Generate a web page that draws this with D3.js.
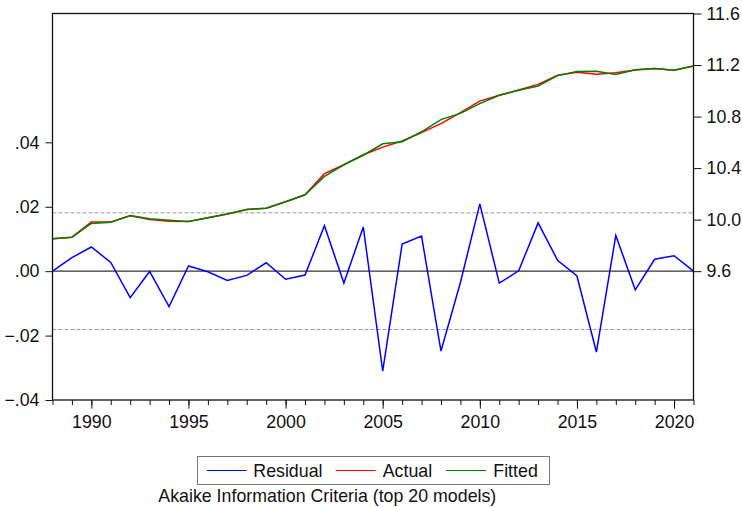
<!DOCTYPE html>
<html>
<head>
<meta charset="utf-8">
<script src="https://cdn.jsdelivr.net/npm/d3@7"></script>
<style>
  body { margin: 0; background: #fff; }
  text { font-family: "Liberation Sans", Arial, sans-serif; fill: #111; }
</style>
</head>
<body>
<div id="chart"></div>
<script>
// years on the x axis
var years = d3.range(1988, 2022);

// residuals (left axis)
var residual = [0.0000, 0.0042, 0.0075, 0.0027, -0.0082, -0.0001, -0.0110, 0.0016, -0.0002, -0.0029,
  -0.0013, 0.0026, -0.0025, -0.0012, 0.0141, -0.0037, 0.0137, -0.0310, 0.0084, 0.0109,
  -0.0248, -0.0035, 0.0209, -0.0037, 0.0001, 0.0150, 0.0034, -0.0015, -0.0251, 0.0111,
  -0.0058, 0.0037, 0.0048, 0.0000];

// actual and fitted (right axis)
var actual = [9.852, 9.864, 9.981, 9.981, 10.030, 10.001, 9.988, 9.986, 10.015, 10.043,
  10.079, 10.089, 10.139, 10.193, 10.357, 10.426, 10.504, 10.563, 10.610, 10.675,
  10.745, 10.830, 10.920, 10.965, 11.006, 11.050, 11.120, 11.143, 11.128, 11.141,
  11.161, 11.174, 11.159, 11.192];
var fitted = [9.852, 9.864, 9.970, 9.979, 10.032, 10.006, 9.996, 9.986, 10.015, 10.043,
  10.079, 10.089, 10.139, 10.193, 10.336, 10.426, 10.500, 10.589, 10.605, 10.682,
  10.776, 10.825, 10.900, 10.965, 11.004, 11.037, 11.118, 11.149, 11.151, 11.126,
  11.163, 11.174, 11.159, 11.192];

var leftTicks = [-0.04, -0.02, 0, 0.02, 0.04];
var rightTicks = [9.6, 10.0, 10.4, 10.8, 11.2, 11.6];
var yearLabels = [1990, 1995, 2000, 2005, 2010, 2015, 2020];
var band = 0.0181;

var W = 742, H = 507;
var m = {left: 52.5, right: 693.5, top: 13.5, bottom: 400};
var fs = "17.8px";

var svg = d3.select("#chart").append("svg")
  .attr("width", W).attr("height", H);

var x = d3.scaleLinear().domain([1988, 2021]).range([m.left, m.right]);
var yL = d3.scaleLinear().domain([-0.04, 0.08]).range([m.bottom, m.top]);
var yR = d3.scaleLinear().domain([8.6, 11.6]).range([m.bottom, m.top]);

var fmtL = function(d) { return d3.format(".2f")(d).replace("0.", "."); };

// reference lines
svg.append("line")
  .attr("x1", m.left).attr("x2", m.right)
  .attr("y1", yL(0)).attr("y2", yL(0))
  .attr("stroke", "#333").attr("stroke-width", 1.2);
[band, -band].forEach(function(v) {
  svg.append("line")
    .attr("x1", m.left).attr("x2", m.right)
    .attr("y1", yL(v)).attr("y2", yL(v))
    .attr("stroke", "#999").attr("stroke-width", 1)
    .attr("stroke-dasharray", "4,2");
});

// lines
var lineL = d3.line().x(function(d, i) { return x(years[i]); }).y(function(d) { return yL(d); });
var lineR = d3.line().x(function(d, i) { return x(years[i]); }).y(function(d) { return yR(d); });

svg.append("path").datum(residual).attr("d", lineL)
  .attr("fill", "none").attr("stroke", "#0000ff").attr("stroke-width", 1.5);
svg.append("path").datum(actual).attr("d", lineR)
  .attr("fill", "none").attr("stroke", "#ff0000").attr("stroke-width", 1.5);
svg.append("path").datum(fitted).attr("d", lineR)
  .attr("fill", "none").attr("stroke", "#008000").attr("stroke-width", 1.5);

// frame
svg.append("rect")
  .attr("x", m.left).attr("y", m.top)
  .attr("width", m.right - m.left).attr("height", m.bottom - m.top)
  .attr("fill", "none").attr("stroke", "#111").attr("stroke-width", 1.3);

// axes
var gL = svg.append("g").attr("transform", "translate(" + m.left + ",0)")
  .call(d3.axisLeft(yL).tickValues(leftTicks).tickFormat(fmtL).tickSize(7).tickPadding(6).tickSizeOuter(0));
var gR = svg.append("g").attr("transform", "translate(" + m.right + ",0)")
  .call(d3.axisRight(yR).tickValues(rightTicks).tickFormat(d3.format(".1f")).tickSize(8).tickPadding(5).tickSizeOuter(0));
var gB = svg.append("g").attr("transform", "translate(0," + m.bottom + ")")
  .call(d3.axisBottom(x).tickValues(years).tickFormat("").tickSize(5).tickSizeOuter(0));
var gB2 = svg.append("g").attr("transform", "translate(0," + m.bottom + ")")
  .call(d3.axisBottom(x).tickValues(yearLabels).tickFormat(d3.format("d")).tickSize(8.7).tickPadding(6.3).tickSizeOuter(0));

[gL, gR, gB, gB2].forEach(function(g) {
  g.select(".domain").remove();
  g.selectAll("line").attr("stroke", "#111");
  g.selectAll("text").style("font-size", fs)
    .style("font-family", "'Liberation Sans', Arial, sans-serif").attr("fill", "#111");
});

// legend
var legendItems = [
  {name: "Residual", color: "#0000ff", x0: 206.7, tx: 253.3},
  {name: "Actual", color: "#ff0000", x0: 335.7, tx: 382.7},
  {name: "Fitted", color: "#008000", x0: 446, tx: 493.3}
];
svg.append("rect")
  .attr("x", 197.5).attr("y", 456.5).attr("width", 352).attr("height", 28)
  .attr("fill", "#fff").attr("stroke", "#777").attr("stroke-width", 1);
legendItems.forEach(function(d) {
  svg.append("line")
    .attr("x1", d.x0).attr("x2", d.x0 + 40)
    .attr("y1", 470.5).attr("y2", 470.5)
    .attr("stroke", d.color).attr("stroke-width", 1.2);
  svg.append("text")
    .attr("x", d.tx).attr("y", 476.5)
    .style("font-size", fs)
    .text(d.name);
});

svg.append("text")
  .attr("x", 158.3).attr("y", 502)
  .style("font-size", fs)
  .text("Akaike Information Criteria (top 20 models)");
</script>
</body>
</html>
